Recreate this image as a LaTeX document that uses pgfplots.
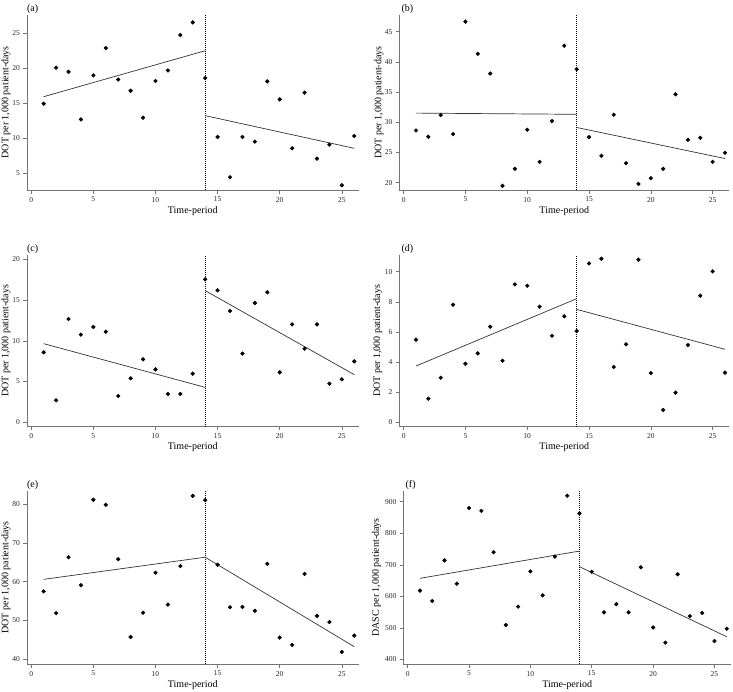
\documentclass[border=0pt]{standalone}
\usepackage{fontspec}
\setmainfont{Liberation Serif}
\usepackage{pgfplots}
\pgfplotsset{compat=1.18}
\pgfplotsset{
 panel/.style={
  scale only axis,
  anchor=south west,
  axis lines*=left,
  axis line style={black!55, line width=0.5pt},
  every tick/.style={black!55, line width=0.5pt},
  tick align=outside,
  major tick length=3.5pt,
  xmin=-0.35, xmax=26.35,
  xtick={0,5,10,15,20,25},
  tick label style={font=\fontsize{7.5}{8}\selectfont, text=black!85},
  /pgf/number format/assume math mode=true,
  xlabel={Time-period},
  xlabel style={font=\fontsize{9}{10}\selectfont, text=black!85},
  ylabel style={font=\fontsize{9}{10}\selectfont, text=black!85},
  every axis x label/.style={at={(axis description cs:0.5,0)}, anchor=center, yshift=-20.7pt},
  every axis y label/.style={at={(axis description cs:-0.063,0.5)}, rotate=90, anchor=center},
  every axis title/.style={at={(axis description cs:0,1)}, anchor=base west, inner sep=0pt, yshift=3.2pt},
  title style={font=\fontsize{10}{11}\selectfont},
  clip=false,
 },
 pts/.style={only marks, mark=*, mark size=1.9pt, black},
 fitl/.style={no marks, black!80, line width=0.7pt},
 cut/.style={no marks, black, line width=0.6pt, dash pattern=on 1.2pt off 0.8pt},
}
\begin{document}
\begin{tikzpicture}
\path[use as bounding box] (0,0) rectangle (733pt,-691pt);

% (a)
\begin{axis}[panel, at={(26.9pt,-190pt)}, width=331.7pt, height=175.5pt,
  ymin=2.61, ymax=27.7, ytick={5,10,15,20,25},
  ylabel={DOT per 1,000 patient-days}, title={(a)}]
\addplot[cut] coordinates {(14,2.61) (14,27.7)};
\addplot[fitl] coordinates {(1,15.95) (14,22.52)};
\addplot[fitl] coordinates {(14,13.24) (26,8.57)};
\addplot[pts] coordinates {
(1,14.95) (2,20.1) (3,19.5) (4,12.7) (5,19.0) (6,22.9) (7,18.4) (8,16.8) (9,12.95)
(10,18.2) (11,19.7) (12,24.76) (13,26.57) (14,18.62) (15,10.19) (16,4.43) (17,10.19)
(18,9.52) (19,18.14) (20,15.57) (21,8.57) (22,16.52) (23,7.1) (24,9.1) (25,3.29) (26,10.33)};
\end{axis}

% (b)
\begin{axis}[panel, at={(399.3pt,-190pt)}, width=330pt, height=175pt,
  ymin=18.79, ymax=47.76, ytick={20,25,30,35,40,45},
  ylabel={DOT per 1,000 patient-days}, title={(b)},
  ylabel style={at={(axis description cs:-0.0615,0.5)}},
  title style={xshift=2pt}]
\addplot[cut] coordinates {(14,18.79) (14,47.76)};
\addplot[fitl] coordinates {(1,31.52) (14,31.32)};
\addplot[fitl] coordinates {(14,29.14) (26,24.0)};
\addplot[pts] coordinates {
(1,28.65) (2,27.6) (3,31.2) (4,28.04) (5,46.66) (6,41.34) (7,38.07) (8,19.48) (9,22.3)
(10,28.76) (11,23.45) (12,30.2) (13,42.67) (14,38.79) (15,27.54) (16,24.45) (17,31.25)
(18,23.23) (19,19.8) (20,20.75) (21,22.3) (22,34.63) (23,27.1) (24,27.43) (25,23.45) (26,24.95)};
\end{axis}

% (c)
\begin{axis}[panel, at={(26.9pt,-426.7pt)}, width=331.7pt, height=171.7pt,
  ymin=-0.54, ymax=20.53, ytick={0,5,10,15,20},
  ylabel={DOT per 1,000 patient-days}, title={(c)}]
\addplot[cut] coordinates {(14,-0.54) (14,20.53)};
\addplot[fitl] coordinates {(1,9.65) (14,4.29)};
\addplot[fitl] coordinates {(14,16.16) (26,5.85)};
\addplot[pts] coordinates {
(1,8.59) (2,2.70) (3,12.68) (4,10.76) (5,11.70) (6,11.12) (7,3.23) (8,5.40) (9,7.73)
(10,6.50) (11,3.48) (12,3.48) (13,5.97) (14,17.55) (15,16.20) (16,13.66) (17,8.43)
(18,14.64) (19,15.95) (20,6.13) (21,12.02) (22,9.04) (23,12.02) (24,4.74) (25,5.28) (26,7.48)};
\end{axis}

% (d)
\begin{axis}[panel, at={(399.3pt,-426.7pt)}, width=330pt, height=171.7pt,
  ymin=-0.29, ymax=11.11, ytick={0,2,4,6,8,10},
  ylabel={DOT per 1,000 patient-days}, title={(d)},
  ylabel style={at={(axis description cs:-0.065,0.5)}},
  title style={xshift=2pt}]
\addplot[cut] coordinates {(14,-0.29) (14,11.11)};
\addplot[fitl] coordinates {(1,3.74) (14,8.21)};
\addplot[fitl] coordinates {(14,7.50) (26,4.85)};
\addplot[pts] coordinates {
(1,5.49) (2,1.57) (3,2.96) (4,7.81) (5,3.89) (6,4.58) (7,6.35) (8,4.09) (9,9.16)
(10,9.07) (11,7.68) (12,5.75) (13,7.04) (14,6.06) (15,10.55) (16,10.86) (17,3.67)
(18,5.18) (19,10.80) (20,3.27) (21,0.82) (22,1.97) (23,5.13) (24,8.41) (25,10.02) (26,3.30)};
\end{axis}

% (e)
\begin{axis}[panel, at={(26.9pt,-664pt)}, width=331.7pt, height=173.3pt,
  ymin=38.79, ymax=83.43, ytick={40,50,60,70,80},
  ylabel={DOT per 1,000 patient-days}, title={(e)}]
\addplot[cut] coordinates {(14,38.79) (14,83.43)};
\addplot[fitl] coordinates {(1,60.6) (14,66.3)};
\addplot[fitl] coordinates {(14,66.3) (26,43.25)};
\addplot[pts] coordinates {
(1,57.5) (2,51.9) (3,66.3) (4,59.1) (5,81.1) (6,79.8) (7,65.8) (8,45.75) (9,52.0)
(10,62.3) (11,54.1) (12,64.0) (13,82.1) (14,81.0) (15,64.36) (16,53.4) (17,53.5)
(18,52.5) (19,64.6) (20,45.6) (21,43.7) (22,62.0) (23,51.2) (24,49.6) (25,41.9) (26,46.1)};
\end{axis}

% (f)
\begin{axis}[panel, at={(403.4pt,-664pt)}, width=327.6pt, height=173.3pt,
  ymin=385.1, ymax=935, ytick={400,500,600,700,800,900},
  ylabel={DASC per 1,000 patient-days}, title={(f)},
  ylabel style={at={(axis description cs:-0.0824,0.5)}},
  title style={xshift=2pt}]
\addplot[cut] coordinates {(14,385.1) (14,935)};
\addplot[fitl] coordinates {(1,657) (14,743.5)};
\addplot[fitl] coordinates {(14,693.8) (26,471.7)};
\addplot[pts] coordinates {
(1,618) (2,585) (3,714) (4,640) (5,880) (6,871) (7,740) (8,509) (9,567)
(10,679) (11,603) (12,726) (13,919) (14,863) (15,678) (16,549) (17,575)
(18,549) (19,692) (20,501) (21,453) (22,670) (23,537) (24,547) (25,458) (26,497)};
\end{axis}
\end{tikzpicture}
\end{document}
